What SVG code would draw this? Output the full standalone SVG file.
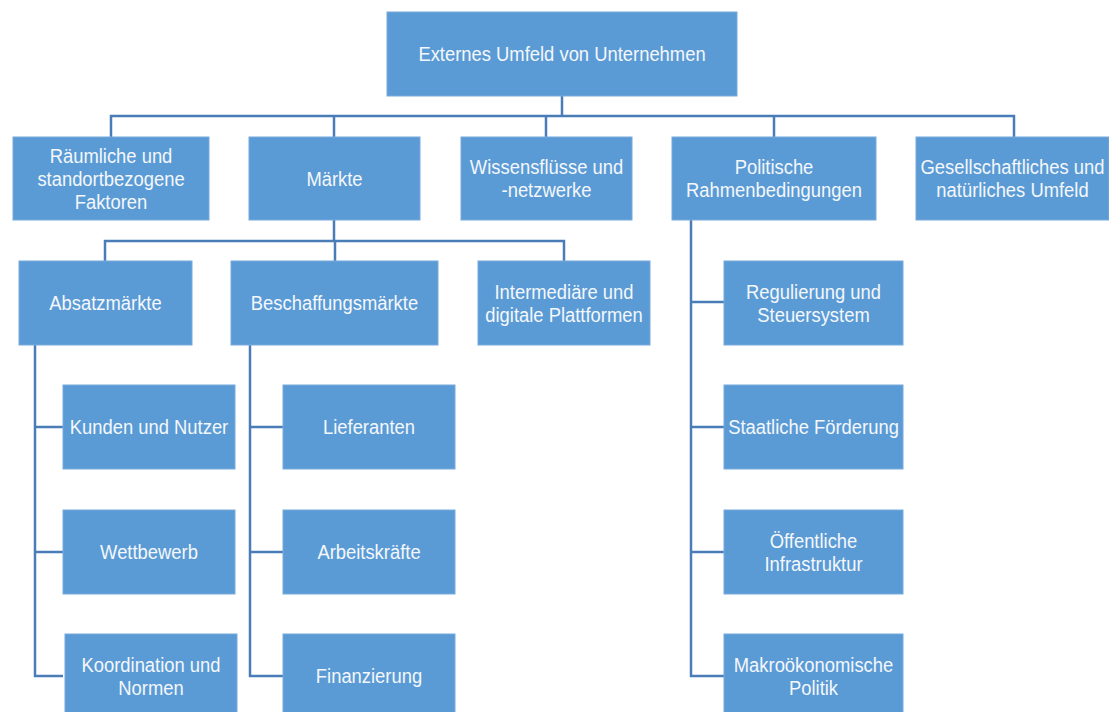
<svg xmlns="http://www.w3.org/2000/svg" width="1109" height="712" viewBox="0 0 1109 712">
<style>
.box{fill:#5b9bd5;stroke:#78aadd;stroke-width:1}
.lbl{font-family:"Liberation Sans",Arial,sans-serif;font-size:21px;fill:#f4f7fb;text-anchor:middle}
.con{stroke:#4a7cb8;stroke-width:2.5;fill:none;stroke-linecap:butt}
</style>
<rect width="1109" height="712" fill="#ffffff"/>
<g id="connectors">
<path class="con" d="M562,96V116M111,137V116H1014V137M334,116V137M546,116V137M774,116V137"/>
<path class="con" d="M334,220V241M105,261V241H564V261M335,241V261"/>
<path class="con" d="M35,345V676H63M35,427H63M35,552H63"/>
<path class="con" d="M250,345V676H283M250,427H283M250,552H283"/>
<path class="con" d="M691,220V676H724M691,302H724M691,427H724M691,552H724"/>
</g>
<g id="root"><rect class="box" x="387" y="12" width="350" height="84"/><text class="lbl" transform="translate(562,0) scale(0.876,1)"><tspan x="0" y="61.5">Externes Umfeld von Unternehmen</tspan></text></g>
<g id="raeumlich"><rect class="box" x="13" y="137" width="196" height="83"/><text class="lbl" transform="translate(111,0) scale(0.876,1)"><tspan x="0" y="163">Räumliche und</tspan><tspan x="0" y="186">standortbezogene</tspan><tspan x="0" y="209">Faktoren</tspan></text></g>
<g id="maerkte"><rect class="box" x="249" y="137" width="171" height="83"/><text class="lbl" transform="translate(334.5,0) scale(0.876,1)"><tspan x="0" y="186">Märkte</tspan></text></g>
<g id="wissen"><rect class="box" x="461" y="137" width="171" height="83"/><text class="lbl" transform="translate(546.5,0) scale(0.876,1)"><tspan x="0" y="174.5">Wissensflüsse und</tspan><tspan x="0" y="197.5">-netzwerke</tspan></text></g>
<g id="politik"><rect class="box" x="672" y="137" width="204" height="83"/><text class="lbl" transform="translate(774,0) scale(0.876,1)"><tspan x="0" y="174.5">Politische</tspan><tspan x="0" y="197.5">Rahmenbedingungen</tspan></text></g>
<g id="gesellschaft"><rect class="box" x="916" y="137" width="193" height="83"/><text class="lbl" transform="translate(1012.5,0) scale(0.876,1)"><tspan x="0" y="174.5">Gesellschaftliches und</tspan><tspan x="0" y="197.5">natürliches Umfeld</tspan></text></g>
<g id="absatz"><rect class="box" x="19" y="261" width="173" height="84"/><text class="lbl" transform="translate(105.5,0) scale(0.876,1)"><tspan x="0" y="310.5">Absatzmärkte</tspan></text></g>
<g id="beschaffung"><rect class="box" x="231" y="261" width="207" height="84"/><text class="lbl" transform="translate(334.5,0) scale(0.876,1)"><tspan x="0" y="310.5">Beschaffungsmärkte</tspan></text></g>
<g id="intermediaere"><rect class="box" x="478" y="261" width="172" height="84"/><text class="lbl" transform="translate(564,0) scale(0.876,1)"><tspan x="0" y="299">Intermediäre und</tspan><tspan x="0" y="322">digitale Plattformen</tspan></text></g>
<g id="kunden"><rect class="box" x="63" y="385" width="172" height="84"/><text class="lbl" transform="translate(149,0) scale(0.876,1)"><tspan x="0" y="434.5">Kunden und Nutzer</tspan></text></g>
<g id="wettbewerb"><rect class="box" x="63" y="510" width="172" height="84"/><text class="lbl" transform="translate(149,0) scale(0.876,1)"><tspan x="0" y="559.5">Wettbewerb</tspan></text></g>
<g id="koordination"><rect class="box" x="65" y="634" width="172" height="84"/><text class="lbl" transform="translate(151,0) scale(0.876,1)"><tspan x="0" y="672">Koordination und</tspan><tspan x="0" y="695">Normen</tspan></text></g>
<g id="lieferanten"><rect class="box" x="283" y="385" width="172" height="84"/><text class="lbl" transform="translate(369,0) scale(0.876,1)"><tspan x="0" y="434.5">Lieferanten</tspan></text></g>
<g id="arbeitskraefte"><rect class="box" x="283" y="510" width="172" height="84"/><text class="lbl" transform="translate(369,0) scale(0.876,1)"><tspan x="0" y="559.5">Arbeitskräfte</tspan></text></g>
<g id="finanzierung"><rect class="box" x="283" y="634" width="172" height="84"/><text class="lbl" transform="translate(369,0) scale(0.876,1)"><tspan x="0" y="683.5">Finanzierung</tspan></text></g>
<g id="regulierung"><rect class="box" x="724" y="261" width="179" height="84"/><text class="lbl" transform="translate(813.5,0) scale(0.876,1)"><tspan x="0" y="299">Regulierung und</tspan><tspan x="0" y="322">Steuersystem</tspan></text></g>
<g id="foerderung"><rect class="box" x="724" y="385" width="179" height="84"/><text class="lbl" transform="translate(813.5,0) scale(0.876,1)"><tspan x="0" y="434.5">Staatliche Förderung</tspan></text></g>
<g id="infrastruktur"><rect class="box" x="724" y="510" width="179" height="84"/><text class="lbl" transform="translate(813.5,0) scale(0.876,1)"><tspan x="0" y="548">Öffentliche</tspan><tspan x="0" y="571">Infrastruktur</tspan></text></g>
<g id="makro"><rect class="box" x="724" y="634" width="179" height="84"/><text class="lbl" transform="translate(813.5,0) scale(0.876,1)"><tspan x="0" y="672">Makroökonomische</tspan><tspan x="0" y="695">Politik</tspan></text></g>
</svg>
